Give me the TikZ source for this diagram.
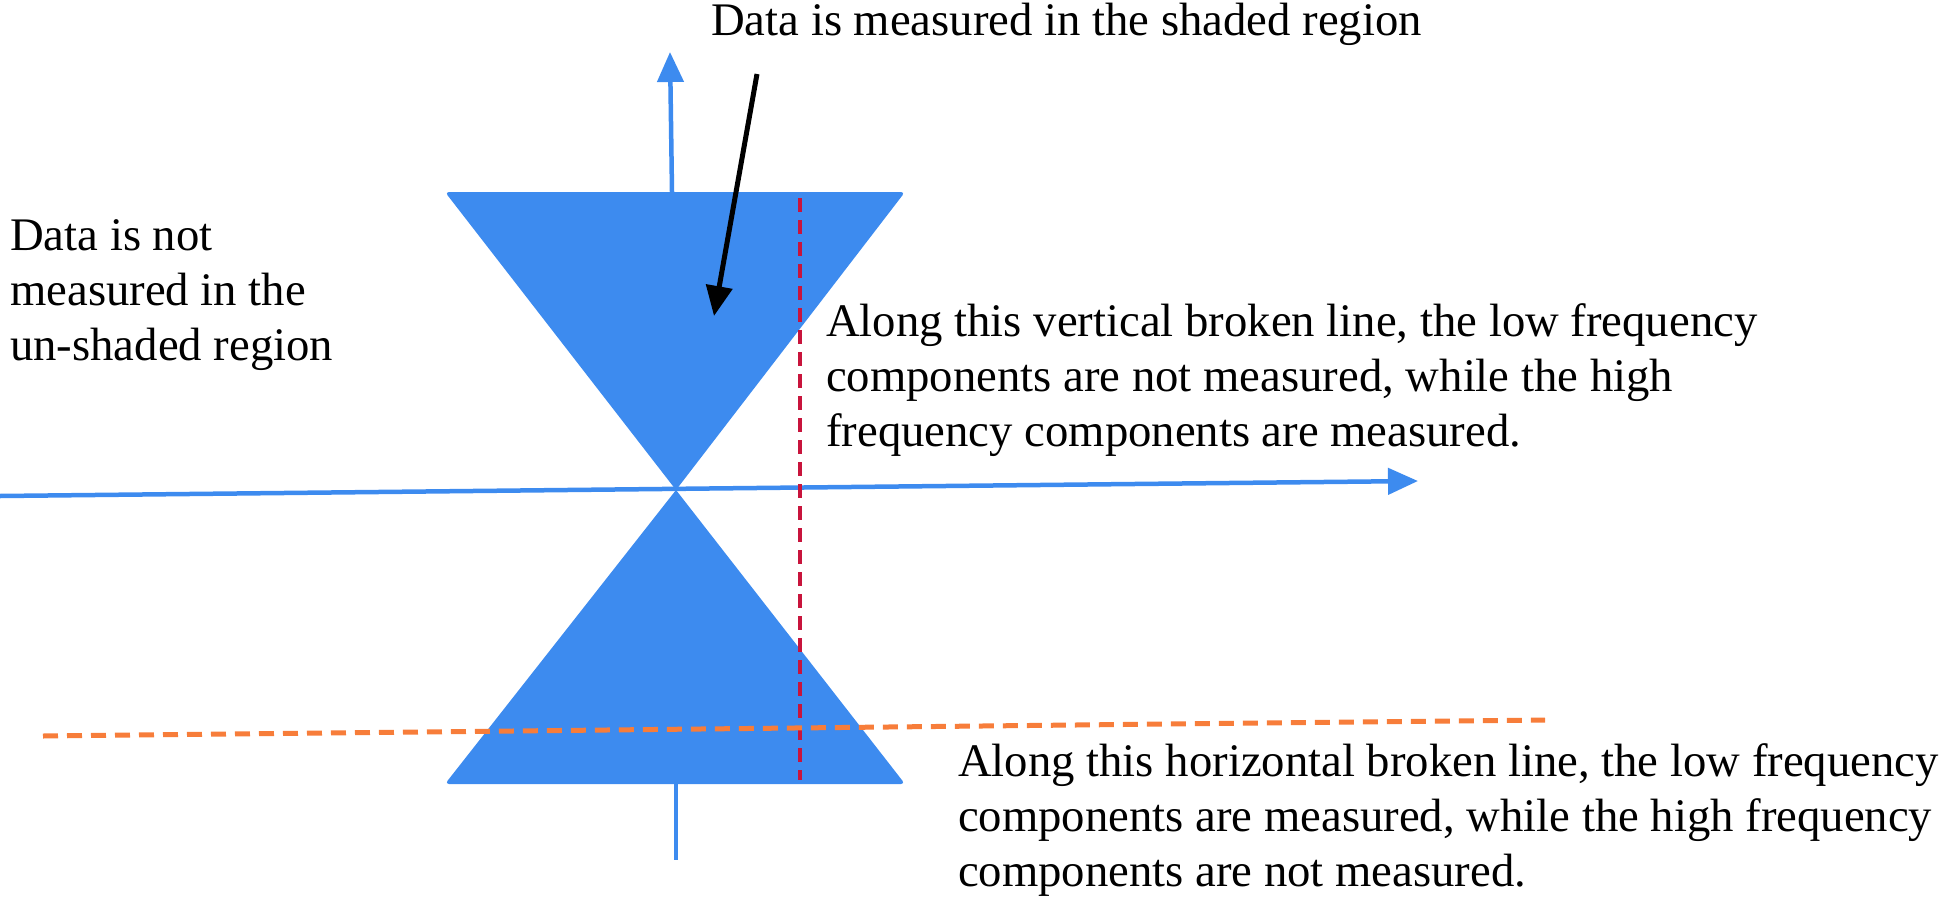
\documentclass[tikz,border=0pt]{standalone}
\usepackage{fontspec}
\setmainfont{Liberation Serif}
\usetikzlibrary{arrows.meta}
\definecolor{axblue}{RGB}{61,139,239}
\definecolor{redd}{RGB}{200,20,60}
\definecolor{orng}{RGB}{247,125,58}
\begin{document}
\begin{tikzpicture}[x=1pt,y=-1pt,
  lab/.style={anchor=base west, inner sep=0pt, font=\fontsize{46.7}{55}\selectfont},
  axis/.style={draw=axblue, line width=4.5pt, -{Triangle[length=30pt,width=26pt]}},
  shade/.style={fill=axblue}]
\useasboundingbox (0,0) rectangle (1946,899);
% coordinates
\coordinate (apex) at (676,490);
\coordinate (tl) at (445,192);
\coordinate (tr) at (905,192);
\coordinate (bl) at (445,784);
\coordinate (br) at (905,784);
% shaded regions
\fill[shade] (apex) [rounded corners=4pt] -- (tl) -- (tr) [sharp corners] -- cycle;
\fill[shade] (apex) [rounded corners=4pt] -- (bl) -- (br) [sharp corners] -- cycle;
% axes
\coordinate (hx0) at (0,496);
\coordinate (hx1) at (1418,481);
\draw[axis] (hx0) -- (hx1);
\coordinate (vy0) at (672,192);
\coordinate (vy1) at (670,52);
\draw[axis] (vy0) -- (vy1);
\coordinate (vb0) at (676,784);
\coordinate (vb1) at (676,860);
\draw[draw=axblue, line width=4.5pt] (vb0) -- (vb1);
% broken lines
\coordinate (r0) at (800,198);
\coordinate (r1) at (800,780);
\draw[redd, line width=4pt, dash pattern=on 14pt off 8pt] (r0) -- (r1);
\coordinate (o0) at (43,736);
\coordinate (o1) at (1545,720);
\draw[orng, line width=5pt, dash pattern=on 15pt off 9pt] (o0) -- (o1);
% pointer arrow
\coordinate (p0) at (757,74);
\coordinate (p1) at (714,316);
\draw[black, line width=5pt, -{Triangle[length=30pt,width=26pt]}] (p0) -- (p1);
% texts
\node[lab] (top) at (711,36) {Data is measured in the shaded region};
\node[lab] (l1) at (10,250) {Data is not};
\node[lab] (l2) at (10,305) {measured in the};
\node[lab] (l3) at (10,360) {un-shaded region};
\node[lab] (a1) at (826,336) {Along this vertical broken line, the low frequency};
\node[lab] (a2) at (826,391) {components are not measured, while the high};
\node[lab] (a3) at (826,446) {frequency components are measured.};
\node[lab] (b1) at (958,776) {Along this horizontal broken line, the low frequency};
\node[lab] (b2) at (958,831) {components are measured, while the high frequency};
\node[lab] (b3) at (958,886) {components are not measured.};
\end{tikzpicture}
\end{document}
